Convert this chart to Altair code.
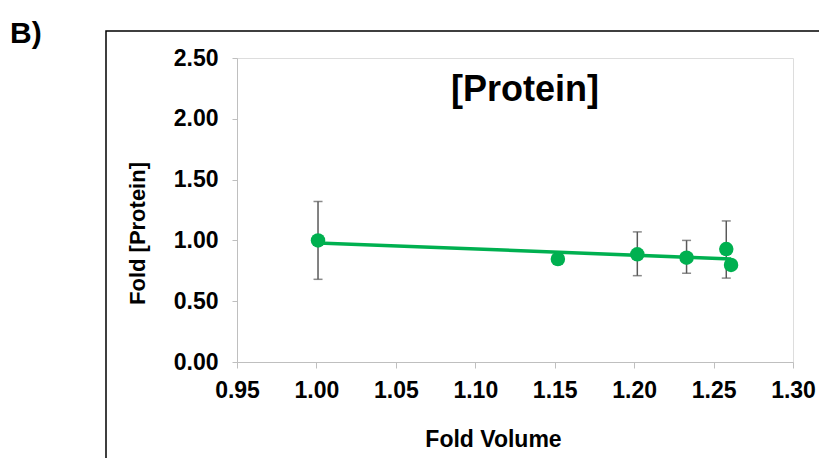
import altair as alt
import pandas as pd

# data
fold_volume = [1.001, 1.152, 1.202, 1.233, 1.258, 1.261]
fold_protein = [1.00, 0.847, 0.886, 0.858, 0.929, 0.798]
err_low = [0.68, None, 0.71, 0.73, 0.69, None]
err_high = [1.32, None, 1.07, 1.00, 1.16, None]

x_ticks = [0.95, 1.00, 1.05, 1.10, 1.15, 1.20, 1.25, 1.30]
y_ticks = [0.0, 0.5, 1.0, 1.5, 2.0, 2.5]

df = pd.DataFrame({"x": fold_volume, "y": fold_protein, "lo": err_low, "hi": err_high})

FONT = "Liberation Sans"
GREEN = "#00b050"
W, H = 556, 304

xscale = alt.Scale(domain=[0.95, 1.30], nice=False, zero=False, padding=0)
yscale = alt.Scale(domain=[0, 2.5], nice=False, padding=0)

xs = alt.X("x:Q", scale=xscale,
           axis=alt.Axis(values=x_ticks, format=".2f", title="Fold Volume", grid=False,
                         domainColor="#bfbfbf", tickColor="#bfbfbf", tickSize=6,
                         labelFont=FONT, labelFontSize=23, labelFontWeight="bold", labelColor="black",
                         labelPadding=11, titleFont=FONT, titleFontSize=23, titleFontWeight="bold",
                         titleColor="black", titleX=256, titleY=77, titleBaseline="middle",
                         labelFlush=False))
ys = alt.Y("y:Q", scale=yscale,
           axis=alt.Axis(values=y_ticks, format=".2f", title="Fold [Protein]", grid=False,
                         domainColor="#bfbfbf", tickColor="#bfbfbf", tickSize=5,
                         labelFont=FONT, labelFontSize=23, labelFontWeight="bold", labelColor="black",
                         labelPadding=14, titleFont=FONT, titleFontSize=22, titleFontWeight="bold",
                         titleColor="black", titleX=-100, titleY=175, titleBaseline="middle",
                         labelFlush=False))

base = alt.Chart(df)

one = "datum.x < 1.01"

border = base.mark_rect(fill=None, stroke="black", strokeWidth=1.5).encode(
    x=alt.value(-131), x2=alt.value(900), y=alt.value(-27), y2=alt.value(600)
).transform_filter(one)

label_b = base.mark_text(text="B)", font=FONT, fontSize=30, fontWeight="bold",
                         align="left", baseline="alphabetic", color="black").encode(
    x=alt.value(-227), y=alt.value(-15)
).transform_filter(one)

title = base.mark_text(text="[Protein]", font=FONT, fontSize=36, fontWeight="bold",
                       align="center", baseline="middle", color="black").encode(
    x=alt.value(288), y=alt.value(32)
).transform_filter(one)

err = base.transform_filter("isValid(datum.lo)")
rules = err.mark_rule(color="#595959", strokeWidth=1.5).encode(
    x=alt.X("x:Q", scale=xscale), y=alt.Y("lo:Q", scale=yscale), y2="hi:Q")
cap_lo = err.mark_tick(color="#595959", thickness=1.5, size=9, orient="horizontal").encode(
    x=alt.X("x:Q", scale=xscale), y=alt.Y("lo:Q", scale=yscale))
cap_hi = err.mark_tick(color="#595959", thickness=1.5, size=9, orient="horizontal").encode(
    x=alt.X("x:Q", scale=xscale), y=alt.Y("hi:Q", scale=yscale))

trend = base.transform_regression("x", "y").mark_line(color=GREEN, strokeWidth=3.5).encode(
    x=alt.X("x:Q", scale=xscale), y=alt.Y("y:Q", scale=yscale))
points = base.mark_circle(color=GREEN, size=210, opacity=1).encode(x=xs, y=ys)

chart = alt.layer(border, label_b, title, rules, cap_lo, cap_hi, trend, points).properties(
    width=W, height=H,
    autosize=alt.AutoSizeParams(type="none"),
    padding={"left": 229, "top": 50, "right": 26, "bottom": 96},
).configure_view(stroke=None).configure(background="white")

chart.save("out.html", embed_options={"renderer": "svg", "actions": False})
